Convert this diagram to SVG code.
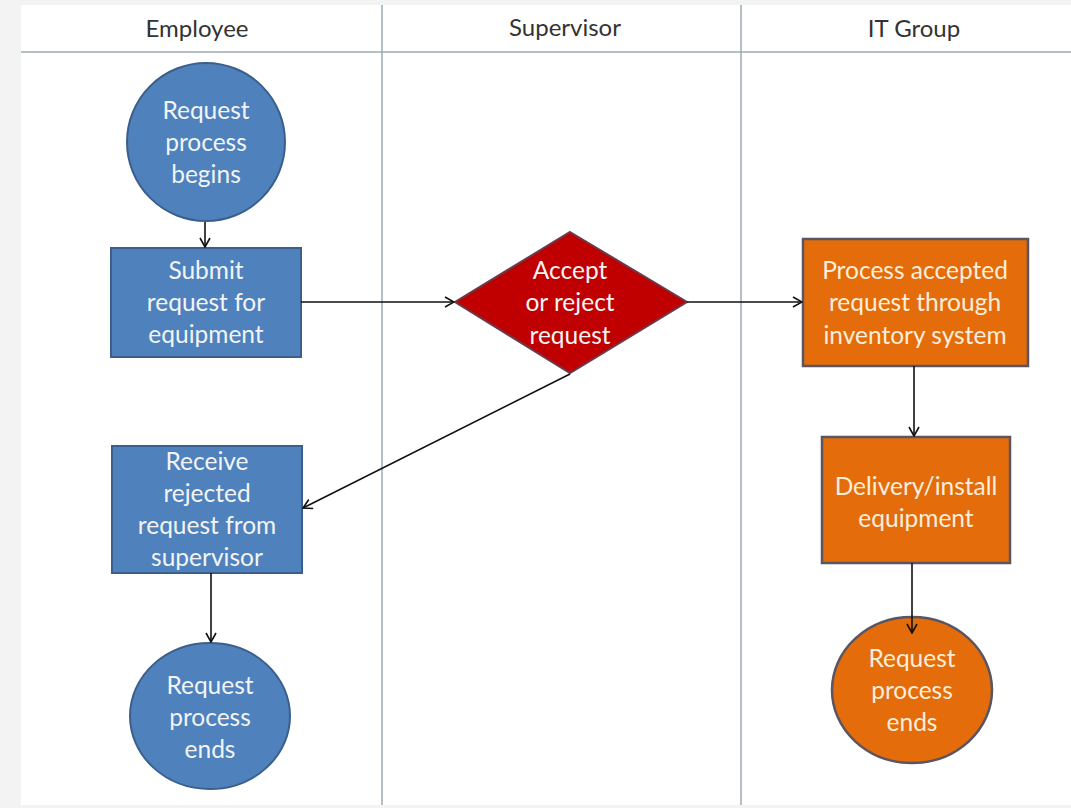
<svg xmlns="http://www.w3.org/2000/svg" width="1071" height="808" viewBox="0 0 1071 808">
<style>
.lane{stroke:#9aabb3;stroke-width:1.5;fill:none}
.hdr{font-family:Lato,"Open Sans","Liberation Sans",sans-serif;font-size:24px;fill:#333;text-anchor:middle}
.lbl{font-family:Lato,"Open Sans","Liberation Sans",sans-serif;font-size:24.5px;fill:#f2f4f6;text-anchor:middle}
.olbl{fill:#fbeedd}
.blue{fill:#4f81bd;stroke:#3b5f8c;stroke-width:2}
.red{fill:#c00000;stroke:#6b3a4a;stroke-width:2}
.orange{fill:#e46c0a;stroke:#5a5560;stroke-width:2.5}
.edge{stroke:#111;stroke-width:1.6;fill:none;marker-end:url(#arr)}
</style>
<defs>
<marker id="arr" viewBox="0 0 12 12" refX="11" refY="6" markerWidth="12" markerHeight="12" markerUnits="userSpaceOnUse" orient="auto">
<polyline points="2,1 11,6 2,11" fill="none" stroke="#111" stroke-width="1.6"/>
</marker>
</defs>
<rect width="1071" height="808" fill="#f3f3f3"/>
<rect x="21" y="5" width="1050" height="800" fill="#ffffff"/>
<g id="lanes">
<line class="lane" x1="21" y1="52" x2="1071" y2="52"/>
<line class="lane" x1="382" y1="5" x2="382" y2="805"/>
<line class="lane" x1="741" y1="5" x2="741" y2="805"/>
<text class="hdr" x="197" y="37">Employee</text>
<text class="hdr" x="565" y="36">Supervisor</text>
<text class="hdr" x="914" y="37">IT Group</text>
</g>
<g id="start">
<ellipse class="blue" cx="206" cy="142" rx="79" ry="79"/>
<text class="lbl" x="206" y="119">Request</text>
<text class="lbl" x="206" y="151">process</text>
<text class="lbl" x="206" y="183">begins</text>
</g>
<g id="submit">
<rect class="blue" x="111" y="248" width="190" height="109"/>
<text class="lbl" x="206" y="279">Submit</text>
<text class="lbl" x="206" y="311">request for</text>
<text class="lbl" x="206" y="343">equipment</text>
</g>
<g id="decision">
<polygon class="red" points="570,232 687,302 570,373 455,302"/>
<text class="lbl" x="570" y="279">Accept</text>
<text class="lbl" x="570" y="311">or reject</text>
<text class="lbl" x="570" y="344">request</text>
</g>
<g id="process">
<rect class="orange" x="803" y="239" width="225" height="127"/>
<text class="lbl olbl" x="915" y="279">Process accepted</text>
<text class="lbl olbl" x="915" y="311">request through</text>
<text class="lbl olbl" x="915" y="344">inventory system</text>
</g>
<g id="deliver">
<rect class="orange" x="822" y="437" width="188" height="126"/>
<text class="lbl olbl" x="916" y="495">Delivery/install</text>
<text class="lbl olbl" x="916" y="527">equipment</text>
</g>
<g id="itend">
<ellipse class="orange" cx="912" cy="690" rx="80" ry="73"/>
<text class="lbl olbl" x="912" y="667">Request</text>
<text class="lbl olbl" x="912" y="699">process</text>
<text class="lbl olbl" x="912" y="731">ends</text>
</g>
<g id="receive">
<rect class="blue" x="112" y="446" width="190" height="127"/>
<text class="lbl" x="207" y="470">Receive</text>
<text class="lbl" x="207" y="502">rejected</text>
<text class="lbl" x="207" y="534">request from</text>
<text class="lbl" x="207" y="566">supervisor</text>
</g>
<g id="empend">
<ellipse class="blue" cx="210" cy="716" rx="80" ry="73"/>
<text class="lbl" x="210" y="694">Request</text>
<text class="lbl" x="210" y="726">process</text>
<text class="lbl" x="210" y="758">ends</text>
</g>
<g id="connectors">
<line class="edge" x1="205" y1="222" x2="205" y2="247"/>
<line class="edge" x1="301" y1="302" x2="454" y2="302"/>
<line class="edge" x1="687" y1="302" x2="802" y2="302"/>
<line class="edge" x1="914" y1="366" x2="914" y2="436"/>
<line class="edge" x1="912" y1="563" x2="912" y2="633"/>
<line class="edge" x1="570" y1="374" x2="303" y2="508"/>
<line class="edge" x1="211" y1="573" x2="211" y2="642"/>
</g>
</svg>
